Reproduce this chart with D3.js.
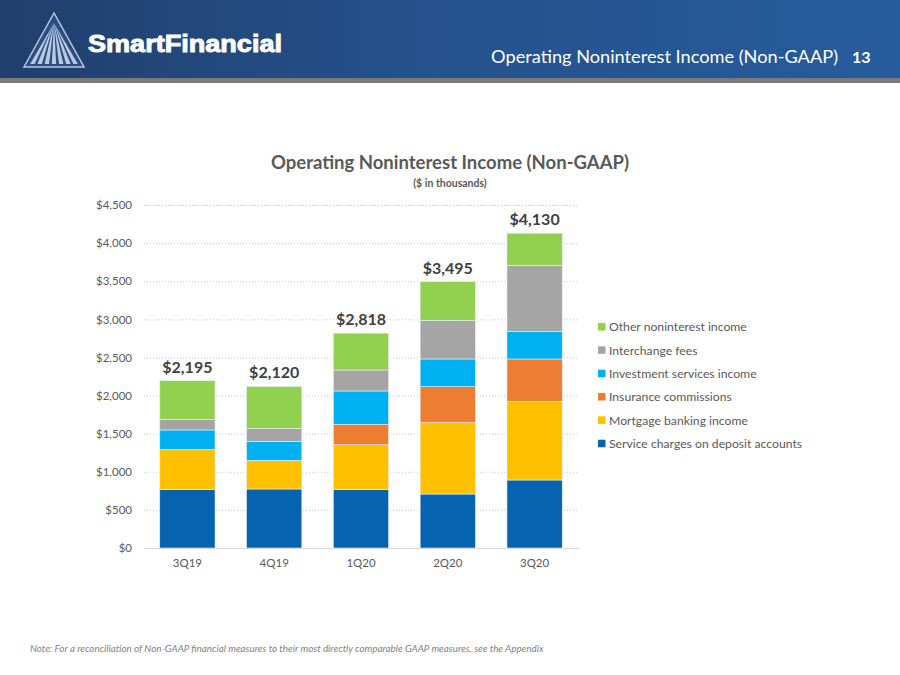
<!DOCTYPE html>
<html>
<head>
<meta charset="utf-8">
<script src="https://cdn.jsdelivr.net/npm/d3@7"></script>
<style>
  body { margin: 0; background: #fff; }
  svg { display: block; font-family: Lato, "Open Sans", sans-serif; }
</style>
</head>
<body>
<script>
// chart data ($ in thousands)
var quarters = ["3Q19", "4Q19", "1Q20", "2Q20", "3Q20"];
var serviceCharges = [765, 774, 769, 708, 892];
var mortgageBanking = [525, 375, 586, 936, 1031];
var insuranceCommissions = [0, 0, 267, 472, 557];
var investmentServices = [258, 250, 438, 364, 362];
var interchangeFees = [139, 170, 275, 506, 866];
var otherIncome = [508, 551, 483, 509, 422];
var totals = [2195, 2120, 2818, 3495, 4130];
var yTicks = [0, 500, 1000, 1500, 2000, 2500, 3000, 3500, 4000, 4500];

var seriesNames = ["Service charges on deposit accounts", "Mortgage banking income",
  "Insurance commissions", "Investment services income", "Interchange fees",
  "Other noninterest income"];
var seriesValues = [serviceCharges, mortgageBanking, insuranceCommissions,
  investmentServices, interchangeFees, otherIncome];
var colors = ["#0563b0", "#ffc000", "#ed7d31", "#00b0f0", "#a5a5a5", "#92d050"];

var w = 900, h = 675;
var margin = {top: 205, left: 144, right: 322, bottom: 127};
var width = w - margin.left - margin.right;
var height = h - margin.top - margin.bottom;

var svg = d3.select("body").append("svg")
  .attr("width", w)
  .attr("height", h);

// ---- header band
var defs = svg.append("defs");
var grad = defs.append("linearGradient").attr("id", "hdr")
  .attr("x1", "0%").attr("x2", "100%").attr("y1", "0%").attr("y2", "0%");
grad.append("stop").attr("offset", "0%").attr("stop-color", "#213f6c");
grad.append("stop").attr("offset", "45%").attr("stop-color", "#24518a");
grad.append("stop").attr("offset", "100%").attr("stop-color", "#275c9e");

svg.append("rect").attr("x", 0).attr("y", 0).attr("width", w).attr("height", 78)
  .attr("fill", "url(#hdr)");
svg.append("rect").attr("x", 0).attr("y", 78).attr("width", w).attr("height", 5)
  .attr("fill", "#7a7a7a");

// logo triangle
var logo = svg.append("g");
var apex = [54, 13], bl = [24, 67], br = [84, 67];
logo.append("path")
  .attr("d", "M" + apex + "L" + bl + "L" + br + "Z")
  .attr("fill", "#2a4f86")
  .attr("stroke", "#b9c7dd")
  .attr("stroke-width", 1.5);
var rays = [0.14, 0.26, 0.38, 0.5, 0.62, 0.74, 0.86];
rays.forEach(function(t) {
  var bx = bl[0] + (br[0] - bl[0]) * t;
  logo.append("path")
    .attr("d", "M" + [apex[0], apex[1] + 10] + "L" + [bx - 2.2, 64] + "L" + [bx + 2.2, 64] + "Z")
    .attr("fill", "#dfe7f3")
    .attr("opacity", 0.8);
});
svg.append("text")
  .attr("x", 88).attr("y", 52)
  .attr("fill", "#fff")
  .attr("stroke", "#fff")
  .attr("stroke-width", 0.9)
  .attr("font-family", "'Liberation Sans', Arial, sans-serif")
  .attr("font-weight", "bold")
  .attr("font-size", 23)
  .attr("textLength", 194)
  .attr("lengthAdjust", "spacingAndGlyphs")
  .text("SmartFinancial");

svg.append("text")
  .attr("x", 838).attr("y", 63)
  .attr("text-anchor", "end")
  .attr("fill", "#fff")
  .attr("font-size", 18.2)
  .text("Operating Noninterest Income (Non-GAAP)");
svg.append("text")
  .attr("x", 852).attr("y", 63)
  .attr("fill", "#fff")
  .attr("font-size", 16)
  .attr("font-weight", "bold")
  .text("13");

// ---- chart titles
svg.append("text")
  .attr("x", 450).attr("y", 169)
  .attr("text-anchor", "middle")
  .attr("fill", "#595959")
  .attr("font-size", 18.5)
  .attr("font-weight", "bold")
  .text("Operating Noninterest Income (Non-GAAP)");
svg.append("text")
  .attr("x", 450).attr("y", 187)
  .attr("text-anchor", "middle")
  .attr("fill", "#595959")
  .attr("font-size", 10.5)
  .attr("font-weight", "bold")
  .text("($ in thousands)");

var chart = svg.append("g")
  .attr("transform", "translate(" + margin.left + "," + margin.top + ")");

var x = d3.scaleBand()
  .domain(quarters)
  .range([0, width])
  .paddingInner(0.363)
  .paddingOuter(0.1815);

var y = d3.scaleLinear()
  .domain([0, 4500])
  .range([height, 0]);

// gridlines
var yGrid = d3.axisLeft(y).tickValues(yTicks).tickSize(-width).tickFormat("");
chart.append("g")
  .call(yGrid)
  .call(function(g) {
    g.select(".domain").remove();
    g.selectAll(".tick line")
      .attr("stroke", "#b8c7d6")
      .attr("stroke-dasharray", "1,2");
  });

// y axis labels
var yAxis = d3.axisLeft(y).tickValues(yTicks).tickSize(0).tickPadding(12)
  .tickFormat(function(d) { return "$" + d3.format(",")(d); });
chart.append("g")
  .call(yAxis)
  .call(function(g) {
    g.select(".domain").remove();
    g.selectAll("text")
      .attr("fill", "#595959")
      .attr("font-size", 11.5)
      .attr("font-family", "Lato, sans-serif");
  });

// stacked bars
var rows = quarters.map(function(q, i) {
  var r = {quarter: q};
  seriesNames.forEach(function(s, j) { r[s] = seriesValues[j][i]; });
  return r;
});
var stack = d3.stack().keys(seriesNames)(rows);

chart.selectAll(".layer")
  .data(stack)
  .enter()
    .append("g")
    .classed("layer", true)
    .attr("fill", function(d, i) { return colors[i]; })
  .selectAll("rect")
  .data(function(d) { return d; })
  .enter()
    .append("rect")
    .attr("x", function(d) { return x(d.data.quarter); })
    .attr("y", function(d) { return y(d[1]); })
    .attr("width", x.bandwidth())
    .attr("height", function(d) { return y(d[0]) - y(d[1]); })
    .attr("stroke", function(d) { return d[1] > d[0] ? "#e8eef4" : "none"; })
    .attr("stroke-width", 0.6);

// x axis
var xAxis = d3.axisBottom(x).tickSize(0).tickPadding(11);
chart.append("g")
  .attr("transform", "translate(0," + height + ")")
  .call(xAxis)
  .call(function(g) {
    g.select(".domain").attr("stroke", "#d9d9d9");
    g.selectAll("text")
      .attr("fill", "#595959")
      .attr("font-size", 11.5)
      .attr("font-family", "Lato, sans-serif");
  });

// totals
chart.selectAll(".total")
  .data(totals)
  .enter()
    .append("text")
    .classed("total", true)
    .attr("x", function(d, i) { return x(quarters[i]) + x.bandwidth() / 2; })
    .attr("y", function(d) { return y(d) - 8; })
    .attr("text-anchor", "middle")
    .attr("fill", "#404040")
    .attr("font-size", 16)
    .attr("font-weight", "bold")
    .text(function(d) { return "$" + d3.format(",")(d); });

// legend (top item = last series)
var legend = svg.append("g").attr("transform", "translate(598,327)");
var legendItems = seriesNames.slice().reverse();
legend.selectAll("g")
  .data(legendItems)
  .enter()
    .append("g")
    .attr("transform", function(d, i) { return "translate(0," + (i * 23.35) + ")"; })
    .each(function(d) {
      var gi = d3.select(this);
      var ci = seriesNames.indexOf(d);
      gi.append("rect").attr("x", 0).attr("y", -4).attr("width", 7.5).attr("height", 7.5)
        .attr("fill", colors[ci]);
      gi.append("text").attr("x", 11).attr("y", 4.3)
        .attr("fill", "#595959")
        .attr("font-size", 12.2)
        .text(d);
    });

// footnote
svg.append("text")
  .attr("x", 30).attr("y", 652)
  .attr("fill", "#7f7f7f")
  .attr("font-size", 9.8)
  .attr("font-style", "italic")
  .text("Note: For a reconciliation of Non-GAAP financial measures to their most directly comparable GAAP measures, see the Appendix");
</script>
</body>
</html>
